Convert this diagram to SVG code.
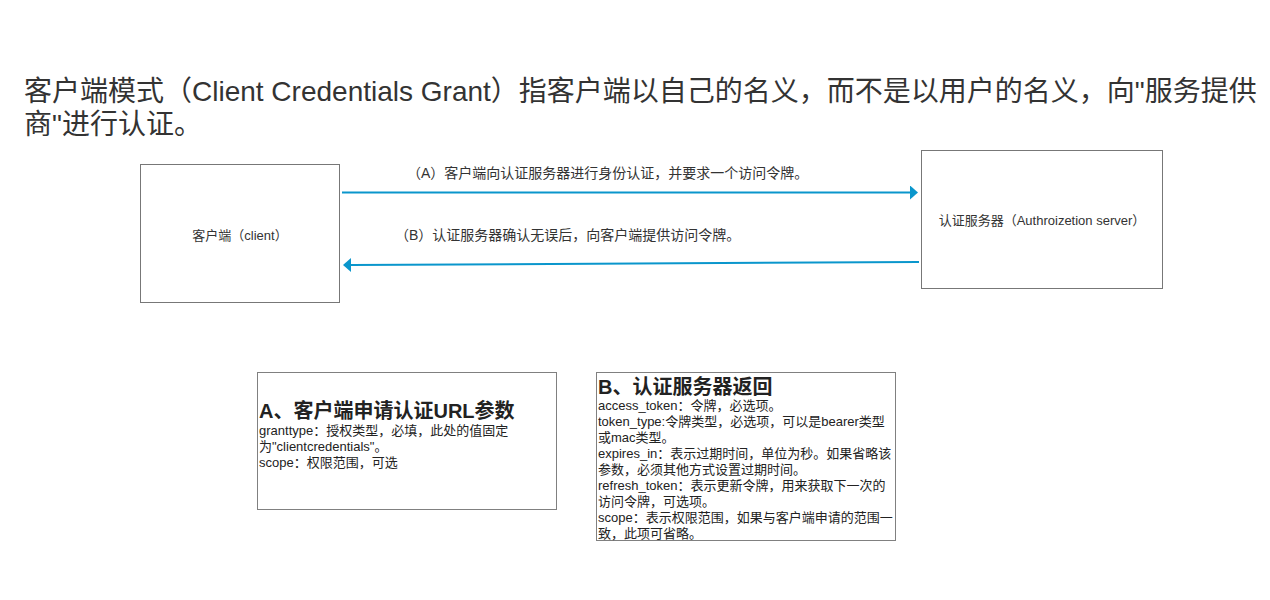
<svg xmlns="http://www.w3.org/2000/svg" width="1270" height="600" viewBox="0 0 1270 600">
  <style>
    text { font-family: "Liberation Sans", "Noto Sans CJK SC", sans-serif; fill: #333333; }
    .title { font-size: 28px; }
    .node { fill: #ffffff; stroke: #777777; stroke-width: 1; }
    .nlabel { font-size: 13px; text-anchor: middle; }
    .elabel { font-size: 14px; }
    .edge { fill: none; stroke: #0a96cc; stroke-width: 2; marker-end: url(#arrow); }
    .panel { fill: #ffffff; stroke: #808080; stroke-width: 1; }
    .ph { font-size: 20px; font-weight: bold; fill: #222222; }
    .pb { font-size: 13px; fill: #222222; }
  </style>
  <defs>
    <marker id="arrow" viewBox="0 0 8 14" markerWidth="8" markerHeight="14" refX="0" refY="7" orient="auto" markerUnits="userSpaceOnUse">
      <path d="M0,0 L8,7 L0,14 z" fill="#0a96cc"/>
    </marker>
  </defs>
  <rect width="1270" height="600" fill="#ffffff"/>

  <g id="title">
    <text class="title" x="24" y="101">客户端模式（Client Credentials Grant）指客户端以自己的名义，而不是以用户的名义，向"服务提供</text>
    <text class="title" x="24" y="134">商"进行认证。</text>
  </g>

  <g id="node-client">
    <rect class="node" x="140.5" y="164.5" width="199" height="138"/>
    <text class="nlabel" x="240" y="239.5">客户端（client）</text>
  </g>

  <g id="node-server">
    <rect class="node" x="921.5" y="150.5" width="241" height="138"/>
    <text class="nlabel" x="1042" y="224.5">认证服务器（Authroizetion server）</text>
  </g>

  <g id="connectors">
    <g id="edge-a">
      <line class="edge" x1="342" y1="192.5" x2="910" y2="192.5"/>
      <text class="elabel" x="407" y="178">（A）客户端向认证服务器进行身份认证，并要求一个访问令牌。</text>
    </g>
    <g id="edge-b">
      <line class="edge" x1="919" y1="262" x2="351" y2="265"/>
      <text class="elabel" x="395" y="240">（B）认证服务器确认无误后，向客户端提供访问令牌。</text>
    </g>
  </g>

  <g id="panel-a">
    <rect class="panel" x="257.5" y="372.5" width="299" height="137"/>
    <text class="ph" x="259" y="418">A、客户端申请认证URL参数</text>
    <text class="pb" x="259" y="434.5">granttype：授权类型，必填，此处的值固定</text>
    <text class="pb" x="259" y="450.5">为"clientcredentials"。</text>
    <text class="pb" x="259" y="466.5">scope：权限范围，可选</text>
  </g>

  <g id="panel-b">
    <rect class="panel" x="596.5" y="372.5" width="299" height="168"/>
    <text class="ph" x="598" y="393.5">B、认证服务器返回</text>
    <text class="pb" x="598" y="410">access_token：令牌，必选项。</text>
    <text class="pb" x="598" y="426">token_type:令牌类型，必选项，可以是bearer类型</text>
    <text class="pb" x="598" y="442">或mac类型。</text>
    <text class="pb" x="598" y="458">expires_in：表示过期时间，单位为秒。如果省略该</text>
    <text class="pb" x="598" y="474">参数，必须其他方式设置过期时间。</text>
    <text class="pb" x="598" y="490">refresh_token：表示更新令牌，用来获取下一次的</text>
    <text class="pb" x="598" y="506">访问令牌，可选项。</text>
    <text class="pb" x="598" y="522">scope：表示权限范围，如果与客户端申请的范围一</text>
    <text class="pb" x="598" y="538">致，此项可省略。</text>
  </g>
</svg>
